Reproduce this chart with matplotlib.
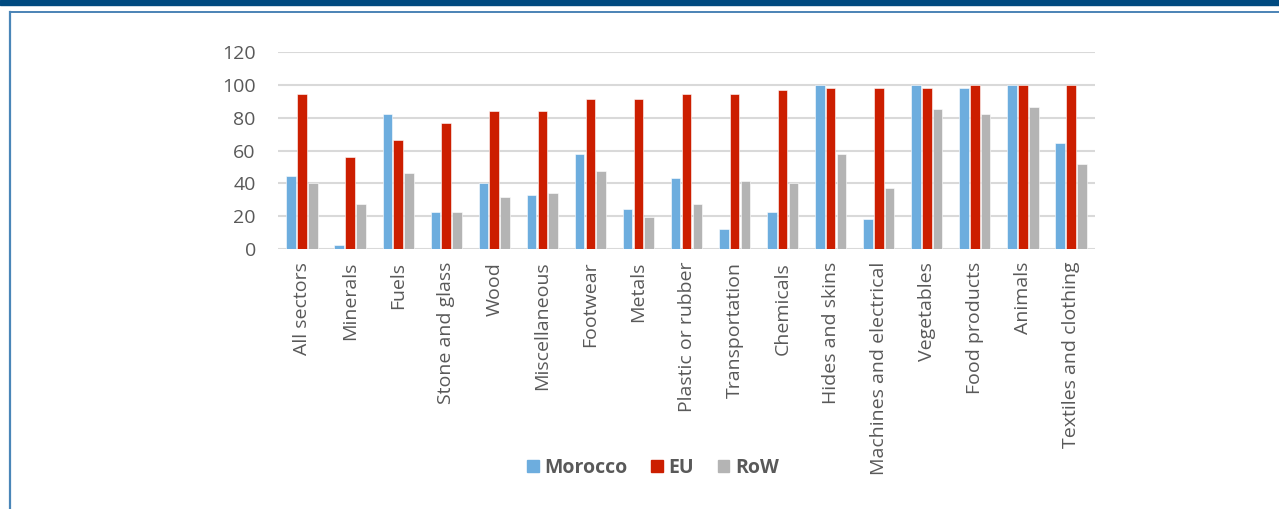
import numpy as np
import matplotlib.pyplot as plt
import matplotlib.patches as mpatches
from matplotlib.lines import Line2D

plt.rcParams['font.family'] = ['Open Sans', 'DejaVu Sans']

sectors = ['All sectors', 'Minerals', 'Fuels', 'Stone and glass', 'Wood',
           'Miscellaneous', 'Footwear', 'Metals', 'Plastic or rubber',
           'Transportation', 'Chemicals', 'Hides and skins',
           'Machines and electrical', 'Vegetables', 'Food products',
           'Animals', 'Textiles and clothing']
morocco = [44.5, 2.4, 82.2, 22.9, 40.5, 33.0, 57.7, 24.3, 43.1, 12.6, 22.7,
           100, 18.4, 100, 98.2, 100, 64.8]
eu = [94.1, 56.3, 66.4, 76.7, 84.0, 84.0, 91.1, 91.1, 94.1, 94.1, 96.8,
      98.2, 98.2, 98.2, 100, 100, 100]
row = [40.5, 27.3, 46.2, 22.9, 31.8, 34.4, 47.6, 19.8, 27.3, 41.5, 40.3,
       57.7, 37.4, 85.2, 82.2, 86.6, 51.8]

series = [('Morocco', morocco, '#6DADDE'), ('EU', eu, '#CC1E00'), ('RoW', row, '#B4B4B4')]

W, H = 1279, 509
fig = plt.figure(figsize=(W / 100, H / 100), dpi=100)
ax = fig.add_axes([278 / W, 1 - 249.3 / H, (1095 - 278) / W, (249.3 - 51.7) / H])

x = np.arange(len(sectors))
off = 0.225
for k, (name, vals, col) in enumerate(series):
    ax.bar(x + (k - 1) * off, vals, width=0.2, color=col, edgecolor='white',
           linewidth=0.4, zorder=3, label=name)

ax.set_ylim(0, 120)
ax.set_xlim(-0.5, len(sectors) - 0.5)
ax.set_yticks(range(0, 121, 20))
ax.yaxis.grid(True, color='#D9D9D9', linewidth=1.5, zorder=0)
ax.set_axisbelow(True)
for s in ax.spines.values():
    s.set_visible(False)
ax.tick_params(axis='both', length=0, colors='#595959', labelsize=14)
ax.tick_params(axis='y', pad=16)
ax.tick_params(axis='x', pad=9)
ax.set_xticks(x)
ax.set_xticklabels(sectors, rotation=90, va='top', ha='center')

handles = [mpatches.Patch(color=c, label=n) for n, _, c in series]
leg = fig.legend(handles=handles, loc='center', bbox_to_anchor=(653 / W, 1 - 468 / H),
                 ncol=3, frameon=False, handlelength=0.6, handleheight=0.6,
                 handletextpad=0.3, columnspacing=1.2,
                 prop={'weight': 'bold', 'size': 14})
for t in leg.get_texts():
    t.set_color('#595959')

# frame decoration
fig.patches.append(mpatches.Rectangle((0, 1 - 4.7 / H), 1, 4.7 / H, transform=fig.transFigure,
                                      color='#004A80', zorder=0))
fig.lines.append(Line2D([9.5 / W, 1], [1 - 11.5 / H, 1 - 11.5 / H], transform=fig.transFigure,
                        color='#3D7AB0', linewidth=1.3))
fig.lines.append(Line2D([9.5 / W, 9.5 / W], [0, 1 - 11.5 / H], transform=fig.transFigure,
                        color='#4A86B8', linewidth=1.6))

fig.savefig('out.png', dpi=100)
